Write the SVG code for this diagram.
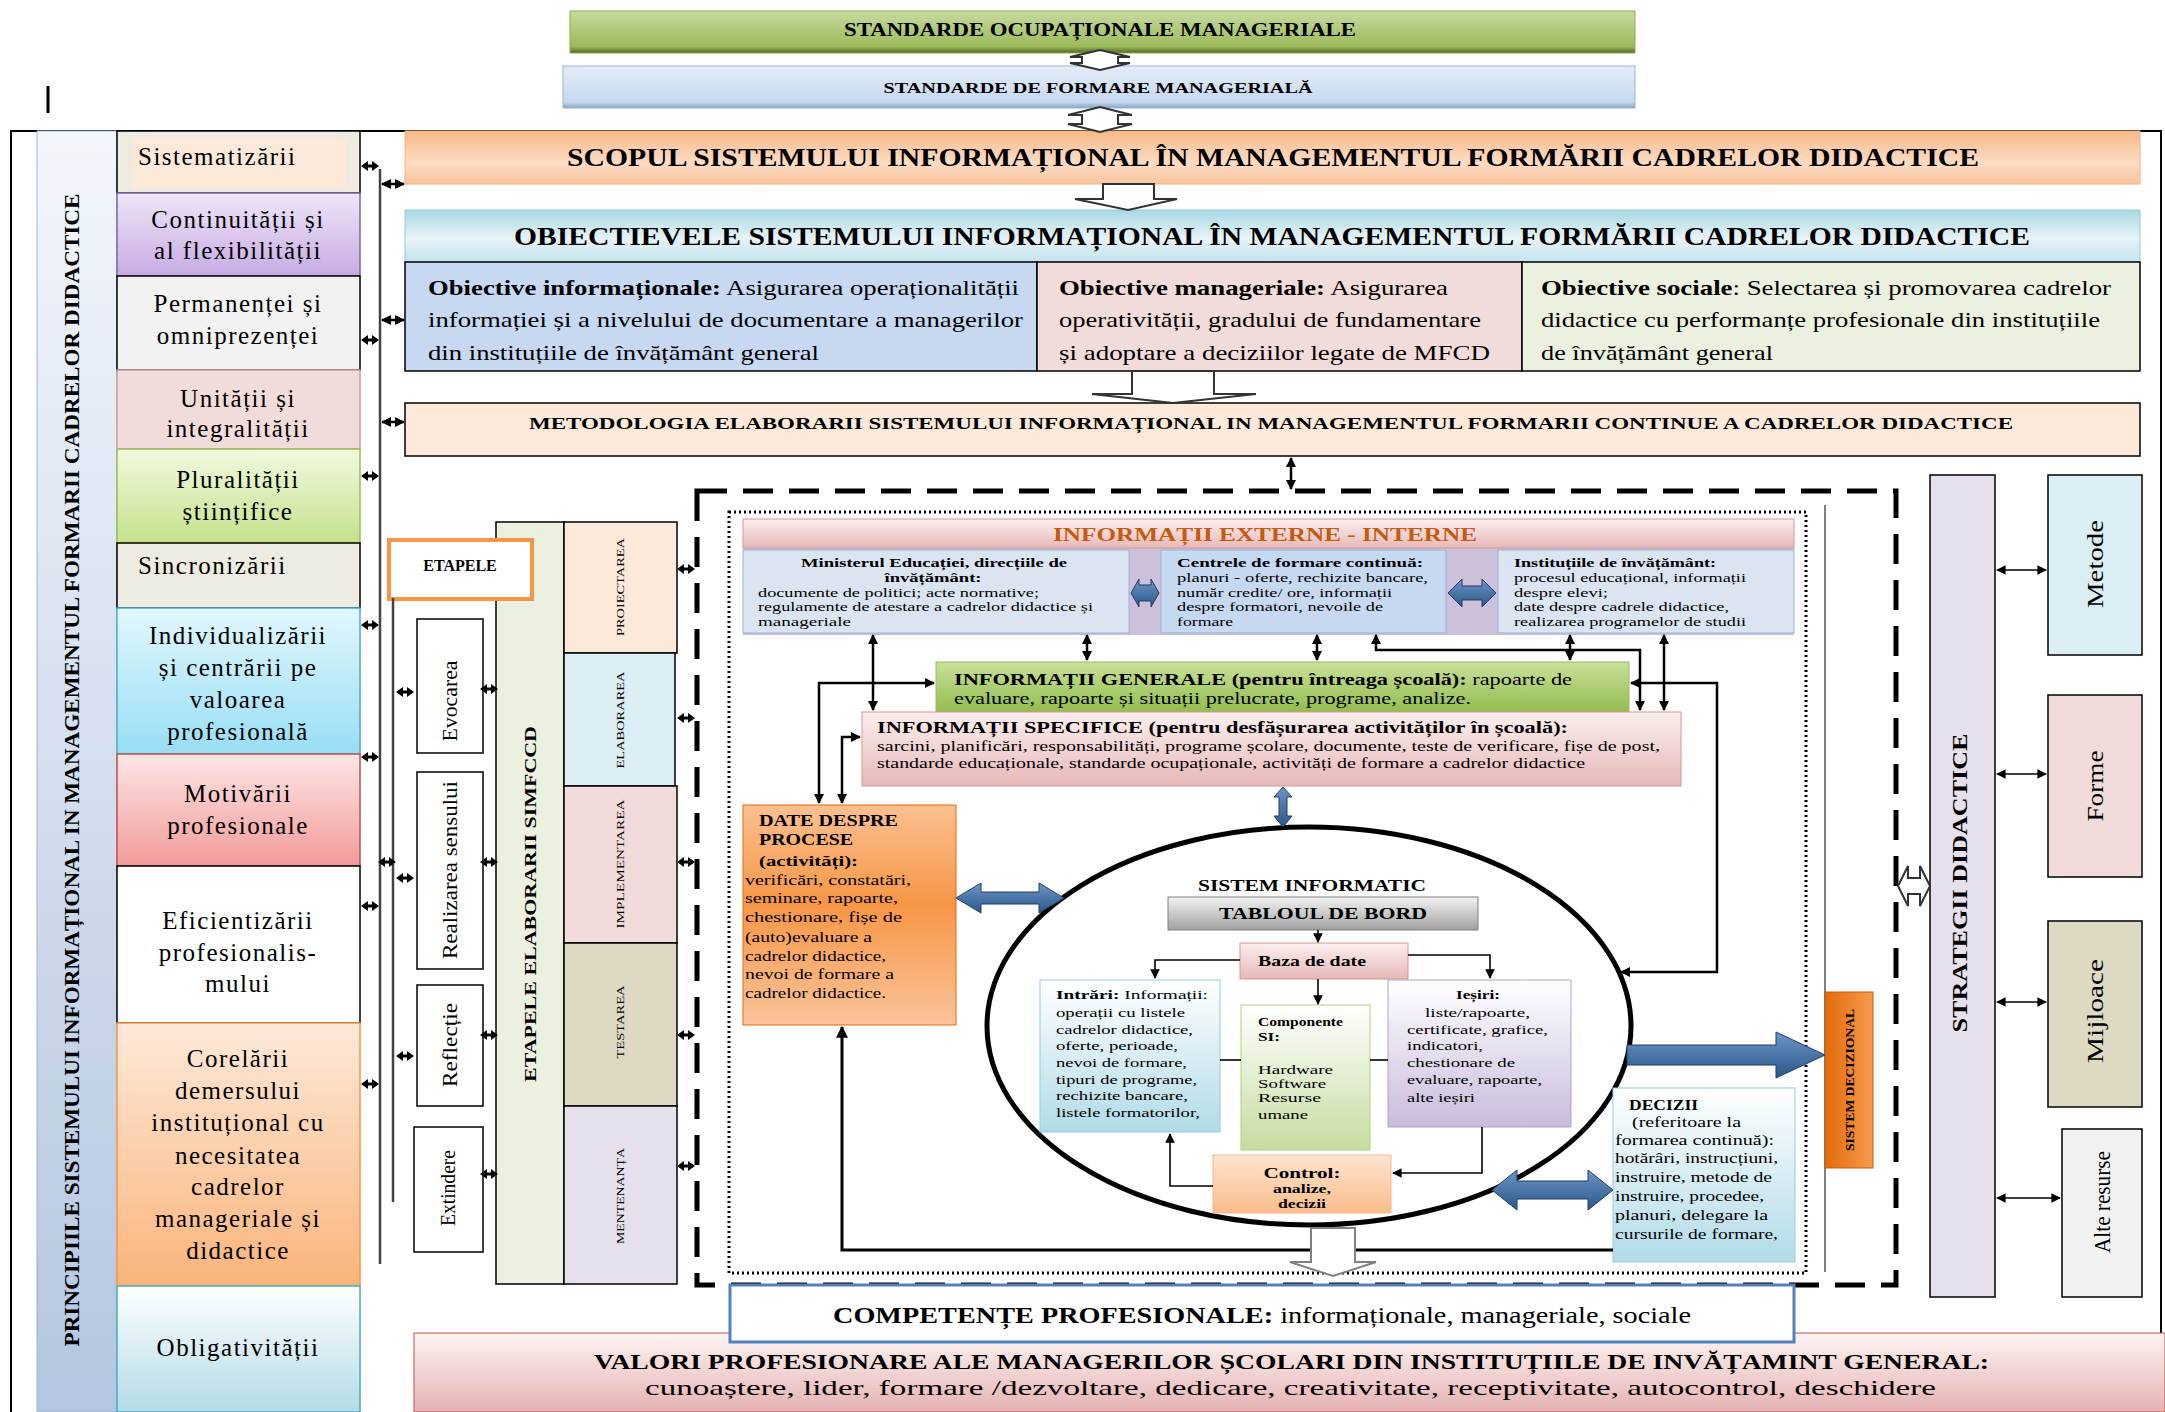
<svg xmlns="http://www.w3.org/2000/svg" width="2165" height="1412" viewBox="0 0 2165 1412">
<style>
text{font-family:"Liberation Serif","Times New Roman",serif;fill:#000}
.b{font-weight:bold}
.ln{fill:none;stroke:#000;stroke-width:2.5}
.tl{fill:none;stroke:#000;stroke-width:1.6}
.ba{fill:url(#gBlue);stroke:#1f3f66;stroke-width:1}
.ho{fill:#fff;stroke:#333;stroke-width:2}
.bx{stroke:#000;stroke-width:1.5}
.pc{font-size:25px;letter-spacing:1.5px;text-anchor:middle}
.vt{text-anchor:middle}
</style>
<defs>
<marker id="ah" viewBox="0 0 10 10" refX="9" refY="5" markerWidth="4" markerHeight="4" orient="auto-start-reverse"><path d="M0,0 L10,5 L0,10 z" fill="#000"/></marker>
<marker id="ah2" viewBox="0 0 10 10" refX="9" refY="5" markerWidth="6" markerHeight="6" orient="auto-start-reverse"><path d="M0,0 L10,5 L0,10 z" fill="#000"/></marker>
<g id="bt"><path d="M-9,0 L-2,-5 L-2,5 Z M9,0 L2,-5 L2,5 Z" fill="#000"/><rect x="-2" y="-1.5" width="4" height="3" fill="#000"/></g>
<linearGradient id="gBlue" x1="0" y1="0" x2="0" y2="1"><stop offset="0" stop-color="#6d95c8"/><stop offset="1" stop-color="#2a5688"/></linearGradient>
<linearGradient id="gGreen" x1="0" y1="0" x2="0" y2="1"><stop offset="0" stop-color="#c6dba0"/><stop offset="0.85" stop-color="#9bbb59"/><stop offset="1" stop-color="#4f6228"/></linearGradient>
<linearGradient id="gLb" x1="0" y1="0" x2="0" y2="1"><stop offset="0" stop-color="#e4ecf6"/><stop offset="0.85" stop-color="#c6d9f1"/><stop offset="1" stop-color="#8ea4c0"/></linearGradient>
<linearGradient id="gScop" x1="0" y1="0" x2="0" y2="1"><stop offset="0" stop-color="#f8b888"/><stop offset="0.6" stop-color="#fcdcc4"/><stop offset="1" stop-color="#f9c49c"/></linearGradient>
<linearGradient id="gObj" x1="0" y1="0" x2="0" y2="1"><stop offset="0" stop-color="#a9d8e4"/><stop offset="0.55" stop-color="#e6f3f7"/><stop offset="1" stop-color="#c4e4ed"/></linearGradient>
<linearGradient id="gTitle" x1="0" y1="0" x2="0" y2="1"><stop offset="0" stop-color="#f3f6fb"/><stop offset="1" stop-color="#b4c6e0"/></linearGradient>
<linearGradient id="gPur" x1="0" y1="0" x2="0" y2="1"><stop offset="0" stop-color="#efe6f8"/><stop offset="1" stop-color="#c7abe3"/></linearGradient>
<linearGradient id="gGr" x1="0" y1="0" x2="0" y2="1"><stop offset="0" stop-color="#f2f9e0"/><stop offset="1" stop-color="#c4e28a"/></linearGradient>
<linearGradient id="gCy" x1="0" y1="0" x2="0" y2="1"><stop offset="0" stop-color="#e2f7fd"/><stop offset="1" stop-color="#98def5"/></linearGradient>
<linearGradient id="gRed" x1="0" y1="0" x2="0" y2="1"><stop offset="0" stop-color="#fde6e6"/><stop offset="1" stop-color="#f29a9a"/></linearGradient>
<linearGradient id="gOr" x1="0" y1="0" x2="0" y2="1"><stop offset="0" stop-color="#fde9da"/><stop offset="1" stop-color="#fab47a"/></linearGradient>
<linearGradient id="gObl" x1="0" y1="0" x2="0" y2="1"><stop offset="0" stop-color="#ffffff"/><stop offset="1" stop-color="#b3dbe6"/></linearGradient>
<linearGradient id="gPink" x1="0" y1="0" x2="0" y2="1"><stop offset="0" stop-color="#fcefef"/><stop offset="1" stop-color="#e6b9b8"/></linearGradient>
<linearGradient id="gGen" x1="0" y1="0" x2="0" y2="1"><stop offset="0" stop-color="#c9e09a"/><stop offset="1" stop-color="#93bd4e"/></linearGradient>
<linearGradient id="gDate" x1="0" y1="0" x2="0" y2="1"><stop offset="0" stop-color="#fac090"/><stop offset="0.45" stop-color="#f79646"/><stop offset="1" stop-color="#fac39a"/></linearGradient>
<linearGradient id="gGray" x1="0" y1="0" x2="0" y2="1"><stop offset="0" stop-color="#f4f4f4"/><stop offset="1" stop-color="#a0a0a0"/></linearGradient>
<linearGradient id="gIn" x1="0" y1="0" x2="0" y2="1"><stop offset="0" stop-color="#ffffff"/><stop offset="1" stop-color="#b2dbe7"/></linearGradient>
<linearGradient id="gComp" x1="0" y1="0" x2="0" y2="1"><stop offset="0" stop-color="#ffffff"/><stop offset="1" stop-color="#c6dca0"/></linearGradient>
<linearGradient id="gOut" x1="0" y1="0" x2="0" y2="1"><stop offset="0" stop-color="#ffffff"/><stop offset="1" stop-color="#c9bcdc"/></linearGradient>
<linearGradient id="gCtl" x1="0" y1="0" x2="0" y2="1"><stop offset="0" stop-color="#fde4d0"/><stop offset="1" stop-color="#f9bd8a"/></linearGradient>
<linearGradient id="gSD" x1="0" y1="0" x2="1" y2="0"><stop offset="0" stop-color="#e26b0a"/><stop offset="1" stop-color="#f79a4f"/></linearGradient>
<linearGradient id="gVal" x1="0" y1="0" x2="0" y2="1"><stop offset="0" stop-color="#fdf3f3"/><stop offset="1" stop-color="#e5b3b2"/></linearGradient>
</defs>

<!-- outer frame -->
<g id="frame">
<path d="M11,1412 V131 H2161 V1335" fill="none" stroke="#000" stroke-width="2"/>
<line x1="48" y1="86" x2="48" y2="113" stroke="#000" stroke-width="3"/>
</g>

<!-- top standards -->
<g id="std-ocup">
<rect x="570" y="11" width="1065" height="42" fill="url(#gGreen)" stroke="#8cad4d" stroke-width="1"/>
<text x="1100" y="36" class="b vt" font-size="18" textLength="512" lengthAdjust="spacingAndGlyphs">STANDARDE OCUPAȚIONALE MANAGERIALE</text>
</g>
<g id="std-form">
<rect x="563" y="66" width="1072" height="42" fill="url(#gLb)" stroke="#95b3d7" stroke-width="1"/>
<text x="1098" y="93" class="b vt" font-size="14" textLength="429" lengthAdjust="spacingAndGlyphs">STANDARDE  DE  FORMARE  MANAGERIALĂ</text>
</g>

<!-- scop -->
<g id="scop">
<rect x="405" y="131" width="1735" height="53" fill="url(#gScop)" stroke="#f4b183" stroke-width="1"/>
<text x="567" y="166" class="b" font-size="25" textLength="1412" lengthAdjust="spacingAndGlyphs">SCOPUL SISTEMULUI INFORMAȚIONAL  ÎN MANAGEMENTUL  FORMĂRII CADRELOR DIDACTICE</text>
</g>

<!-- obiective -->
<g id="obiective">
<rect x="405" y="210" width="1735" height="52" fill="url(#gObj)" stroke="#93cddd" stroke-width="1"/>
<text x="514" y="245" class="b" font-size="25" textLength="1516" lengthAdjust="spacingAndGlyphs">OBIECTIEVELE SISTEMULUI INFORMAȚIONAL  ÎN MANAGEMENTUL  FORMĂRII CADRELOR DIDACTICE</text>
</g>
<g id="ob-info">
<rect x="405" y="262" width="632" height="109" fill="#c6d9f1" class="bx"/>
<text x="428" y="295" font-size="21" textLength="591" lengthAdjust="spacingAndGlyphs"><tspan class="b">Obiective informaționale:</tspan> Asigurarea operaționalității</text>
<text x="428" y="327" font-size="21" textLength="595" lengthAdjust="spacingAndGlyphs">informației și a nivelului de documentare a managerilor</text>
<text x="428" y="360" font-size="21" textLength="391" lengthAdjust="spacingAndGlyphs">din instituțiile de învățământ general</text>
</g>
<g id="ob-man">
<rect x="1037" y="262" width="485" height="109" fill="#f2dcdb" class="bx"/>
<text x="1059" y="295" font-size="21" textLength="389" lengthAdjust="spacingAndGlyphs"><tspan class="b">Obiective manageriale:</tspan> Asigurarea</text>
<text x="1059" y="327" font-size="21" textLength="422" lengthAdjust="spacingAndGlyphs">operativității, gradului de fundamentare</text>
<text x="1059" y="360" font-size="21" textLength="431" lengthAdjust="spacingAndGlyphs">și adoptare a deciziilor legate de MFCD</text>
</g>
<g id="ob-soc">
<rect x="1522" y="262" width="618" height="109" fill="#ebf1de" class="bx"/>
<text x="1541" y="295" font-size="21" textLength="570" lengthAdjust="spacingAndGlyphs"><tspan class="b">Obiective sociale</tspan>: Selectarea și promovarea cadrelor</text>
<text x="1541" y="327" font-size="21" textLength="559" lengthAdjust="spacingAndGlyphs">didactice cu performanțe profesionale din instituțiile</text>
<text x="1541" y="360" font-size="21" textLength="232" lengthAdjust="spacingAndGlyphs">de învățământ general</text>
</g>

<!-- metodologie -->
<g id="metodologie">
<rect x="405" y="403" width="1735" height="53" fill="#fde9d9" class="bx"/>
<text x="529" y="429" class="b" font-size="17" textLength="1484" lengthAdjust="spacingAndGlyphs">METODOLOGIA  ELABORARII SISTEMULUI INFORMAȚIONAL IN MANAGEMENTUL FORMARII CONTINUE A CADRELOR DIDACTICE</text>
</g>

<!-- left title column -->
<g id="titlu-principii">
<rect x="37" y="131" width="80" height="1281" fill="url(#gTitle)" stroke="#9bb3d4" stroke-width="1"/>
<text transform="translate(79,770) rotate(-90)" class="b vt" font-size="20" textLength="1153" lengthAdjust="spacingAndGlyphs">PRINCIPIILE SISTEMULUI INFORMAȚIONAL IN MANAGEMENTUL FORMARII CADRELOR  DIDACTICE</text>
</g>

<!-- principles -->
<g id="p-sistematizarii">
<rect x="117" y="131" width="243" height="62" fill="#eeece1" class="bx"/>
<rect x="132" y="138" width="214" height="50" fill="#fde9d9"/>
<text x="138" y="165" font-size="25" letter-spacing="1.5">Sistematizării</text>
</g>
<g id="p-continuitatii">
<rect x="117" y="193" width="243" height="83" fill="url(#gPur)" stroke="#8064a2" stroke-width="1.5"/>
<text x="238" y="228" class="pc">Continuității și</text>
<text x="238" y="259" class="pc">al flexibilității</text>
</g>
<g id="p-permanentei">
<rect x="117" y="276" width="243" height="94" fill="#f2f2f2" class="bx"/>
<text x="238" y="312" class="pc">Permanenței și</text>
<text x="238" y="344" class="pc">omniprezenței</text>
</g>
<g id="p-unitatii">
<rect x="117" y="370" width="243" height="79" fill="#f2dcdb" stroke="#c9a0a0" stroke-width="1.5"/>
<text x="238" y="407" class="pc">Unității și</text>
<text x="238" y="437" class="pc">integralității</text>
</g>
<g id="p-pluralitatii">
<rect x="117" y="449" width="243" height="94" fill="url(#gGr)" stroke="#9bbb59" stroke-width="1.5"/>
<text x="238" y="488" class="pc">Pluralității</text>
<text x="238" y="520" class="pc">științifice</text>
</g>
<g id="p-sincronizarii">
<rect x="117" y="543" width="243" height="65" fill="#eeece1" class="bx"/>
<text x="138" y="574" font-size="25" letter-spacing="1.5">Sincronizării</text>
</g>
<g id="p-individualizarii">
<rect x="117" y="608" width="243" height="146" fill="url(#gCy)" stroke="#4bacc6" stroke-width="1.5"/>
<text x="238" y="644" class="pc">Individualizării</text>
<text x="238" y="676" class="pc">și centrării pe</text>
<text x="238" y="708" class="pc">valoarea</text>
<text x="238" y="740" class="pc">profesională</text>
</g>
<g id="p-motivarii">
<rect x="117" y="754" width="243" height="112" fill="url(#gRed)" stroke="#c0504d" stroke-width="1.5"/>
<text x="238" y="802" class="pc">Motivării</text>
<text x="238" y="834" class="pc">profesionale</text>
</g>
<g id="p-eficientizarii">
<rect x="117" y="866" width="243" height="157" fill="#ffffff" class="bx"/>
<text x="238" y="929" class="pc">Eficientizării</text>
<text x="238" y="961" class="pc">profesionalis-</text>
<text x="238" y="992" class="pc">mului</text>
</g>
<g id="p-corelarii">
<rect x="117" y="1023" width="243" height="263" fill="url(#gOr)" stroke="#f79646" stroke-width="1.5"/>
<text x="238" y="1067" class="pc">Corelării</text>
<text x="238" y="1099" class="pc">demersului</text>
<text x="238" y="1131" class="pc">instituțional cu</text>
<text x="238" y="1164" class="pc">necesitatea</text>
<text x="238" y="1195" class="pc">cadrelor</text>
<text x="238" y="1227" class="pc">manageriale și</text>
<text x="238" y="1259" class="pc">didactice</text>
</g>
<g id="p-obligativitatii">
<rect x="117" y="1286" width="243" height="126" fill="url(#gObl)" stroke="#4bacc6" stroke-width="1.5"/>
<text x="238" y="1356" class="pc">Obligativității</text>
</g>

<!-- etape -->
<g id="etape-col">
<rect x="496" y="522" width="68" height="762" fill="#ebf1de" class="bx"/>
<text transform="translate(536,904) rotate(-90)" class="b vt" font-size="17" textLength="356" lengthAdjust="spacingAndGlyphs">ETAPELE  ELABORARII  SIMFCCD</text>
</g>
<g id="etapele">
<rect x="389" y="540" width="143" height="59" fill="#fff" stroke="#f79646" stroke-width="4"/>
<text x="460" y="571" class="b vt" font-size="16">ETAPELE</text>
</g>
<g id="e-evocarea">
<rect x="417" y="619" width="66" height="134" fill="#fff" class="bx"/>
<text transform="translate(457,701) rotate(-90)" class="vt" font-size="20" textLength="81" lengthAdjust="spacingAndGlyphs">Evocarea</text>
</g>
<g id="e-realizarea">
<rect x="417" y="772" width="66" height="197" fill="#fff" class="bx"/>
<text transform="translate(457,870) rotate(-90)" class="vt" font-size="20" textLength="178" lengthAdjust="spacingAndGlyphs">Realizarea sensului</text>
</g>
<g id="e-reflectie">
<rect x="417" y="985" width="66" height="121" fill="#fff" class="bx"/>
<text transform="translate(457,1045) rotate(-90)" class="vt" font-size="20" textLength="84" lengthAdjust="spacingAndGlyphs">Reflecție</text>
</g>
<g id="e-extindere">
<rect x="414" y="1127" width="69" height="125" fill="#fff" class="bx"/>
<text transform="translate(455,1188) rotate(-90)" class="vt" font-size="20" textLength="76" lengthAdjust="spacingAndGlyphs">Extindere</text>
</g>
<g id="f-proiectarea">
<rect x="564" y="522" width="113" height="131" fill="#fde9d9" class="bx"/>
<text transform="translate(624,587) rotate(-90)" class="vt" font-size="11" textLength="98" lengthAdjust="spacingAndGlyphs">PROIECTAREA</text>
</g>
<g id="f-elaborarea">
<rect x="564" y="653" width="111" height="133" fill="#daeef3" class="bx"/>
<text transform="translate(624,720) rotate(-90)" class="vt" font-size="11" textLength="97" lengthAdjust="spacingAndGlyphs">ELABORAREA</text>
</g>
<g id="f-implementarea">
<rect x="564" y="786" width="113" height="157" fill="#f2dcdb" class="bx"/>
<text transform="translate(624,864) rotate(-90)" class="vt" font-size="11" textLength="129" lengthAdjust="spacingAndGlyphs">IMPLEMENTAREA</text>
</g>
<g id="f-testarea">
<rect x="564" y="943" width="113" height="163" fill="#ddd9c3" class="bx"/>
<text transform="translate(624,1022) rotate(-90)" class="vt" font-size="11" textLength="73" lengthAdjust="spacingAndGlyphs">TESTAREA</text>
</g>
<g id="f-mentenanta">
<rect x="564" y="1106" width="113" height="178" fill="#e5e0ec" class="bx"/>
<text transform="translate(624,1196) rotate(-90)" class="vt" font-size="11" textLength="96" lengthAdjust="spacingAndGlyphs">MENTENANȚA</text>
</g>

<!-- dashed system container -->
<g id="container">
<rect x="697" y="491" width="1199" height="794" fill="none" stroke="#000" stroke-width="5" stroke-dasharray="30 16"/>
<rect x="729" y="512" width="1077" height="761" fill="none" stroke="#000" stroke-width="3" stroke-dasharray="2 3"/>
<line x1="1825" y1="505" x2="1825" y2="1272" stroke="#808080" stroke-width="2"/>
</g>

<!-- informatii externe - interne -->
<g id="info-ext">
<rect x="743" y="548" width="1051" height="87" fill="#ccc0da"/>
<rect x="743" y="519" width="1051" height="29" fill="url(#gPink)" stroke="#d99694" stroke-width="1"/>
<text x="1265" y="541" class="b vt" font-size="18" style="fill:#c55a11" textLength="424" lengthAdjust="spacingAndGlyphs">INFORMAȚII EXTERNE - INTERNE</text>
</g>
<g id="src-minister">
<rect x="743" y="550" width="386" height="83" fill="#dbe5f1" stroke="#95b3d7" stroke-width="1"/>
<text x="934" y="567" class="b vt" font-size="13" textLength="266" lengthAdjust="spacingAndGlyphs">Ministerul Educației, direcțiile de</text>
<text x="933" y="582" class="b vt" font-size="13" textLength="97" lengthAdjust="spacingAndGlyphs">învățământ:</text>
<text x="758" y="597" font-size="13" textLength="281" lengthAdjust="spacingAndGlyphs">documente de politici;  acte normative;</text>
<text x="758" y="611" font-size="13" textLength="335" lengthAdjust="spacingAndGlyphs">regulamente de atestare a cadrelor didactice și</text>
<text x="758" y="626" font-size="13" textLength="93" lengthAdjust="spacingAndGlyphs">manageriale</text>
</g>
<g id="src-centre">
<rect x="1161" y="550" width="285" height="83" fill="#c6d9f1" stroke="#95b3d7" stroke-width="1"/>
<text x="1177" y="567" class="b" font-size="13" textLength="246" lengthAdjust="spacingAndGlyphs">Centrele de formare continuă:</text>
<text x="1177" y="582" font-size="13" textLength="251" lengthAdjust="spacingAndGlyphs">planuri - oferte, rechizite bancare,</text>
<text x="1177" y="597" font-size="13" textLength="215" lengthAdjust="spacingAndGlyphs">număr credite/ ore, informații</text>
<text x="1177" y="611" font-size="13" textLength="206" lengthAdjust="spacingAndGlyphs">despre formatori, nevoile de</text>
<text x="1177" y="626" font-size="13" textLength="56" lengthAdjust="spacingAndGlyphs">formare</text>
</g>
<g id="src-institutii">
<rect x="1498" y="550" width="296" height="83" fill="#dbe5f1" stroke="#95b3d7" stroke-width="1"/>
<text x="1514" y="567" class="b" font-size="13" textLength="202" lengthAdjust="spacingAndGlyphs">Instituțiile de învățământ:</text>
<text x="1514" y="582" font-size="13" textLength="232" lengthAdjust="spacingAndGlyphs">procesul educațional, informații</text>
<text x="1514" y="597" font-size="13" textLength="94" lengthAdjust="spacingAndGlyphs">despre elevi;</text>
<text x="1514" y="611" font-size="13" textLength="215" lengthAdjust="spacingAndGlyphs">date despre cadrele didactice,</text>
<text x="1514" y="626" font-size="13" textLength="232" lengthAdjust="spacingAndGlyphs">realizarea programelor de studii</text>
</g>

<g id="info-generale">
<rect x="936" y="662" width="693" height="50" fill="url(#gGen)" stroke="#9bbb59" stroke-width="1"/>
<text x="954" y="685" font-size="16" textLength="618" lengthAdjust="spacingAndGlyphs"><tspan class="b">INFORMAȚII  GENERALE  (pentru întreaga școală):</tspan> rapoarte de</text>
<text x="954" y="704" font-size="16" textLength="517" lengthAdjust="spacingAndGlyphs">evaluare, rapoarte și situații prelucrate, programe, analize.</text>
</g>
<g id="info-specifice">
<rect x="862" y="712" width="819" height="74" fill="url(#gPink)" stroke="#d99694" stroke-width="1"/>
<text x="877" y="733" class="b" font-size="16" textLength="691" lengthAdjust="spacingAndGlyphs">INFORMAȚII  SPECIFICE  (pentru  desfășurarea activităților în școală):</text>
<text x="877" y="751" font-size="15" textLength="783" lengthAdjust="spacingAndGlyphs">sarcini, planificări, responsabilități,  programe școlare, documente, teste de verificare, fișe de post,</text>
<text x="877" y="768" font-size="15" textLength="708" lengthAdjust="spacingAndGlyphs">standarde educaționale,  standarde ocupaționale,  activități  de formare a cadrelor didactice</text>
</g>

<g id="date-procese">
<rect x="743" y="805" width="213" height="220" fill="url(#gDate)" stroke="#e46c0a" stroke-width="1"/>
<text x="759" y="826" class="b" font-size="16" textLength="139" lengthAdjust="spacingAndGlyphs">DATE DESPRE</text>
<text x="759" y="845" class="b" font-size="16" textLength="94" lengthAdjust="spacingAndGlyphs">PROCESE</text>
<text x="759" y="866" class="b" font-size="15" textLength="99" lengthAdjust="spacingAndGlyphs">(activități):</text>
<text x="745" y="885" font-size="15" textLength="166" lengthAdjust="spacingAndGlyphs">verificări,  constatări,</text>
<text x="745" y="903" font-size="15" textLength="153" lengthAdjust="spacingAndGlyphs">seminare,  rapoarte,</text>
<text x="745" y="922" font-size="15" textLength="157" lengthAdjust="spacingAndGlyphs">chestionare,  fișe de</text>
<text x="745" y="942" font-size="15" textLength="127" lengthAdjust="spacingAndGlyphs">(auto)evaluare  a</text>
<text x="745" y="961" font-size="15" textLength="141" lengthAdjust="spacingAndGlyphs">cadrelor didactice,</text>
<text x="745" y="979" font-size="15" textLength="149" lengthAdjust="spacingAndGlyphs">nevoi de formare  a</text>
<text x="745" y="998" font-size="15" textLength="141" lengthAdjust="spacingAndGlyphs">cadrelor didactice.</text>
</g>

<!-- sistem informatic -->
<g id="sistem-informatic">
<ellipse cx="1309" cy="1026" rx="322" ry="199" fill="#fff" stroke="#000" stroke-width="5"/>
<text x="1312" y="891" class="b vt" font-size="17" textLength="228" lengthAdjust="spacingAndGlyphs">SISTEM INFORMATIC</text>
</g>
<g id="tabloul">
<rect x="1168" y="897" width="310" height="33" fill="url(#gGray)" stroke="#7f7f7f" stroke-width="1"/>
<text x="1323" y="919" class="b vt" font-size="17" textLength="208" lengthAdjust="spacingAndGlyphs">TABLOUL  DE BORD</text>
</g>
<g id="baza-date">
<rect x="1240" y="943" width="168" height="36" fill="url(#gPink)" stroke="#d99694" stroke-width="1"/>
<text x="1312" y="966" class="b vt" font-size="15" textLength="108" lengthAdjust="spacingAndGlyphs">Baza de date</text>
</g>
<g id="intrari">
<rect x="1040" y="980" width="180" height="152" fill="url(#gIn)" stroke="#93cddd" stroke-width="1"/>
<text x="1056" y="999" font-size="13" textLength="152" lengthAdjust="spacingAndGlyphs"><tspan class="b">Intrări:</tspan> Informații:</text>
<text x="1056" y="1017" font-size="12.5" textLength="129" lengthAdjust="spacingAndGlyphs">operații cu listele</text>
<text x="1056" y="1034" font-size="12.5" textLength="137" lengthAdjust="spacingAndGlyphs">cadrelor didactice,</text>
<text x="1056" y="1050" font-size="12.5" textLength="122" lengthAdjust="spacingAndGlyphs">oferte, perioade,</text>
<text x="1056" y="1067" font-size="12.5" textLength="131" lengthAdjust="spacingAndGlyphs">nevoi de formare,</text>
<text x="1056" y="1084" font-size="12.5" textLength="141" lengthAdjust="spacingAndGlyphs">tipuri de programe,</text>
<text x="1056" y="1100" font-size="12.5" textLength="132" lengthAdjust="spacingAndGlyphs">rechizite bancare,</text>
<text x="1056" y="1117" font-size="12.5" textLength="144" lengthAdjust="spacingAndGlyphs">listele formatorilor,</text>
</g>
<g id="componente">
<rect x="1241" y="1005" width="129" height="145" fill="url(#gComp)" stroke="#b3cf7f" stroke-width="1"/>
<text x="1258" y="1026" class="b" font-size="12" textLength="85" lengthAdjust="spacingAndGlyphs">Componente</text>
<text x="1258" y="1041" class="b" font-size="12" textLength="22" lengthAdjust="spacingAndGlyphs">SI:</text>
<text x="1258" y="1074" font-size="12" textLength="75" lengthAdjust="spacingAndGlyphs">Hardware</text>
<text x="1258" y="1088" font-size="12" textLength="68" lengthAdjust="spacingAndGlyphs">Software</text>
<text x="1258" y="1102" font-size="12" textLength="63" lengthAdjust="spacingAndGlyphs">Resurse</text>
<text x="1258" y="1119" font-size="12" textLength="50" lengthAdjust="spacingAndGlyphs">umane</text>
</g>
<g id="iesiri">
<rect x="1388" y="980" width="183" height="147" fill="url(#gOut)" stroke="#b2a1c7" stroke-width="1"/>
<text x="1478" y="999" class="b vt" font-size="13" textLength="44" lengthAdjust="spacingAndGlyphs">Ieșiri:</text>
<text x="1425" y="1017" font-size="12.5" textLength="105" lengthAdjust="spacingAndGlyphs">liste/rapoarte,</text>
<text x="1407" y="1034" font-size="12.5" textLength="141" lengthAdjust="spacingAndGlyphs">certificate, grafice,</text>
<text x="1407" y="1050" font-size="12.5" textLength="76" lengthAdjust="spacingAndGlyphs">indicatori,</text>
<text x="1407" y="1067" font-size="12.5" textLength="108" lengthAdjust="spacingAndGlyphs">chestionare de</text>
<text x="1407" y="1084" font-size="12.5" textLength="135" lengthAdjust="spacingAndGlyphs">evaluare, rapoarte,</text>
<text x="1407" y="1102" font-size="12.5" textLength="68" lengthAdjust="spacingAndGlyphs">alte ieșiri</text>
</g>
<g id="control">
<rect x="1213" y="1155" width="178" height="58" fill="url(#gCtl)" stroke="#f9b88a" stroke-width="1"/>
<text x="1302" y="1178" class="b vt" font-size="15" textLength="77" lengthAdjust="spacingAndGlyphs">Control:</text>
<text x="1302" y="1193" class="b vt" font-size="13" textLength="58" lengthAdjust="spacingAndGlyphs">analize,</text>
<text x="1302" y="1208" class="b vt" font-size="13" textLength="48" lengthAdjust="spacingAndGlyphs">decizii</text>
</g>

<g id="decizii">
<rect x="1613" y="1088" width="182" height="174" fill="url(#gIn)" stroke="#93cddd" stroke-width="1"/>
<text x="1629" y="1110" class="b" font-size="15" textLength="69" lengthAdjust="spacingAndGlyphs">DECIZII</text>
<text x="1632" y="1127" font-size="15" textLength="109" lengthAdjust="spacingAndGlyphs">(referitoare  la</text>
<text x="1615" y="1145" font-size="15" textLength="159" lengthAdjust="spacingAndGlyphs">formarea  continuă):</text>
<text x="1615" y="1163" font-size="15" textLength="163" lengthAdjust="spacingAndGlyphs">hotărâri, instrucțiuni,</text>
<text x="1615" y="1182" font-size="15" textLength="157" lengthAdjust="spacingAndGlyphs">instruire, metode de</text>
<text x="1615" y="1201" font-size="15" textLength="149" lengthAdjust="spacingAndGlyphs">instruire, procedee,</text>
<text x="1615" y="1220" font-size="15" textLength="153" lengthAdjust="spacingAndGlyphs">planuri, delegare  la</text>
<text x="1615" y="1239" font-size="15" textLength="163" lengthAdjust="spacingAndGlyphs">cursurile de formare,</text>
</g>
<g id="sistem-decizional">
<rect x="1825" y="992" width="48" height="176" fill="url(#gSD)" stroke="#c55a11" stroke-width="1"/>
<text transform="translate(1854,1080) rotate(-90)" class="b vt" font-size="13" textLength="142" lengthAdjust="spacingAndGlyphs">SISTEM  DECIZIONAL</text>
</g>

<!-- strategii -->
<g id="strategii">
<rect x="1930" y="475" width="65" height="822" fill="#e5e0ec" class="bx"/>
<text transform="translate(1967,883) rotate(-90)" class="b vt" font-size="20" textLength="299" lengthAdjust="spacingAndGlyphs">STRATEGII DIDACTICE</text>
</g>
<g id="metode">
<rect x="2048" y="475" width="94" height="180" fill="#daeef3" class="bx"/>
<text transform="translate(2103,564) rotate(-90)" class="vt" font-size="24" textLength="88" lengthAdjust="spacingAndGlyphs">Metode</text>
</g>
<g id="forme">
<rect x="2048" y="695" width="94" height="182" fill="#f2dcdb" class="bx"/>
<text transform="translate(2103,786) rotate(-90)" class="vt" font-size="24" textLength="71" lengthAdjust="spacingAndGlyphs">Forme</text>
</g>
<g id="mijloace">
<rect x="2048" y="921" width="94" height="186" fill="#ddd9c3" class="bx"/>
<text transform="translate(2103,1011) rotate(-90)" class="vt" font-size="24" textLength="104" lengthAdjust="spacingAndGlyphs">Mijloace</text>
</g>
<g id="alte-resurse">
<rect x="2062" y="1129" width="80" height="168" fill="#f2f2f2" class="bx"/>
<text transform="translate(2110,1202) rotate(-90)" class="vt" font-size="24" textLength="102" lengthAdjust="spacingAndGlyphs">Alte resurse</text>
</g>

<!-- bottom -->
<g id="valori">
<rect x="414" y="1333" width="1751" height="79" fill="url(#gVal)" stroke="#c0504d" stroke-width="1"/>
<text x="594" y="1369" class="b" font-size="21" textLength="1395" lengthAdjust="spacingAndGlyphs">VALORI PROFESIONARE ALE MANAGERILOR ȘCOLARI DIN INSTITUȚIILE DE INVĂȚAMINT GENERAL:</text>
<text x="645" y="1395" font-size="21" textLength="1291" lengthAdjust="spacingAndGlyphs">cunoaștere,  lider,  formare /dezvoltare,  dedicare,  creativitate,  receptivitate,  autocontrol,   deschidere</text>
</g>
<g id="competente">
<rect x="730" y="1285" width="1064" height="57" fill="#fff" stroke="#4f81bd" stroke-width="3"/>
<text x="833" y="1323" font-size="23" textLength="858" lengthAdjust="spacingAndGlyphs"><tspan class="b">COMPETENȚE PROFESIONALE:</tspan> informaționale,  manageriale,  sociale</text>
</g>

<!-- connectors -->
<g id="connectors">
<polygon class="ho" points="1100,50 1130,57 1118,57 1118,63 1130,63 1100,70 1070,63 1082,63 1082,57 1070,57"/>
<polygon class="ho" points="1100,107 1132,115 1118,115 1118,124 1132,124 1100,132 1068,124 1082,124 1082,115 1068,115"/>
<polygon class="ho" points="1103,184 1154,184 1154,199 1177,199 1128,210 1075,199 1103,199"/>
<polygon class="ho" points="1132,371 1214,371 1214,394 1256,394 1173,403 1092,394 1132,394"/>
<line x1="1291" y1="458" x2="1291" y2="489" class="ln" marker-start="url(#ah)" marker-end="url(#ah)"/>

<line x1="380" y1="169" x2="380" y2="1264" stroke="#444" stroke-width="2.5"/>
<line x1="393" y1="598" x2="393" y2="1202" stroke="#444" stroke-width="2.5"/>
<use href="#bt" x="370" y="166"/>
<use href="#bt" x="370" y="340"/>
<use href="#bt" x="370" y="476"/>
<use href="#bt" x="370" y="625"/>
<use href="#bt" x="370" y="757"/>
<use href="#bt" x="370" y="906"/>
<use href="#bt" x="370" y="1084"/>
<use href="#bt" x="387" y="862"/>
<line x1="382" y1="184" x2="404" y2="184" class="ln" marker-start="url(#ah)" marker-end="url(#ah)"/>
<line x1="382" y1="320" x2="404" y2="320" class="ln" marker-start="url(#ah)" marker-end="url(#ah)"/>
<line x1="382" y1="422" x2="404" y2="422" class="ln" marker-start="url(#ah)" marker-end="url(#ah)"/>
<use href="#bt" x="405" y="692"/>
<use href="#bt" x="405" y="878"/>
<use href="#bt" x="405" y="1056"/>
<use href="#bt" x="489" y="689"/>
<use href="#bt" x="489" y="862"/>
<use href="#bt" x="489" y="1035"/>
<use href="#bt" x="489" y="1174"/>
<use href="#bt" x="686" y="569"/>
<use href="#bt" x="686" y="718"/>
<use href="#bt" x="686" y="862"/>
<use href="#bt" x="686" y="1035"/>
<use href="#bt" x="686" y="1166"/>

<polygon class="ba" points="1131,593 1139,579 1139,585 1151,585 1151,579 1159,593 1151,607 1151,601 1139,601 1139,607"/>
<polygon class="ba" points="1448,593 1462,579 1462,586 1482,586 1482,579 1496,593 1482,607 1482,600 1462,600 1462,607"/>
<line x1="873" y1="635" x2="873" y2="710" class="ln" marker-start="url(#ah)" marker-end="url(#ah)"/>
<line x1="1087" y1="635" x2="1087" y2="660" class="ln" marker-start="url(#ah)" marker-end="url(#ah)"/>
<line x1="1317" y1="635" x2="1317" y2="660" class="ln" marker-start="url(#ah)" marker-end="url(#ah)"/>
<path d="M1376,635 V650 H1640 V710" class="ln" marker-start="url(#ah)" marker-end="url(#ah)"/>
<line x1="1570" y1="635" x2="1570" y2="660" class="ln" marker-start="url(#ah)" marker-end="url(#ah)"/>
<line x1="1664" y1="635" x2="1664" y2="710" class="ln" marker-start="url(#ah)" marker-end="url(#ah)"/>
<path d="M1631,683 H1717 V972 H1621" class="ln" marker-start="url(#ah)" marker-end="url(#ah)"/>
<path d="M934,683 H819 V803" class="ln" marker-start="url(#ah)" marker-end="url(#ah)"/>
<path d="M860,737 H842 V803" class="ln" marker-start="url(#ah)" marker-end="url(#ah)"/>
<path d="M842,1027 V1250 H1613" fill="none" stroke="#000" stroke-width="3" marker-start="url(#ah)"/>
<polygon class="ba" points="1283,787 1292,797 1287,797 1287,816 1292,816 1283,827 1274,816 1279,816 1279,797 1274,797"/>
<polygon class="ba" points="956,898 981,883 981,892 1039,892 1039,883 1064,898 1039,913 1039,904 981,904 981,913"/>

<line x1="1318" y1="930" x2="1318" y2="942" class="tl" marker-end="url(#ah2)"/>
<path d="M1240,960 H1155 V978" class="tl" marker-end="url(#ah2)"/>
<path d="M1408,955 H1490 V978" class="tl" marker-end="url(#ah2)"/>
<line x1="1318" y1="979" x2="1318" y2="1004" class="tl" marker-end="url(#ah2)"/>
<line x1="1220" y1="1060" x2="1241" y2="1060" class="tl"/>
<line x1="1370" y1="1060" x2="1388" y2="1060" class="tl"/>
<path d="M1482,1127 V1173 H1393" class="tl" marker-end="url(#ah2)"/>
<path d="M1213,1186 H1170 V1134" class="tl" marker-end="url(#ah2)"/>
<polygon class="ho" points="1311,1228 1355,1228 1355,1262 1376,1262 1333,1276 1290,1262 1311,1262" style="stroke:#808080"/>

<polygon class="ba" points="1627,1045 1776,1045 1776,1032 1825,1055 1776,1078 1776,1065 1627,1065"/>
<polygon class="ba" points="1492,1190 1517,1170 1517,1181 1588,1181 1588,1170 1613,1190 1588,1210 1588,1199 1517,1199 1517,1210"/>

<polygon class="ho" points="1898,886 1908,866 1908,878 1920,878 1920,866 1930,886 1920,906 1920,894 1908,894 1908,906"/>
<line x1="1997" y1="570" x2="2046" y2="570" class="tl" marker-start="url(#ah2)" marker-end="url(#ah2)"/>
<line x1="1997" y1="774" x2="2046" y2="774" class="tl" marker-start="url(#ah2)" marker-end="url(#ah2)"/>
<line x1="1997" y1="1002" x2="2046" y2="1002" class="tl" marker-start="url(#ah2)" marker-end="url(#ah2)"/>
<line x1="1997" y1="1198" x2="2060" y2="1198" class="tl" marker-start="url(#ah2)" marker-end="url(#ah2)"/>
</g>
</svg>
